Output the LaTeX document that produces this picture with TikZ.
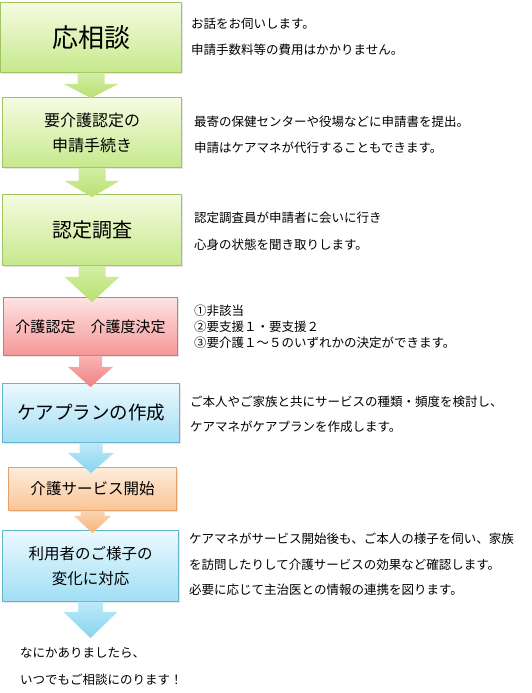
\documentclass[tikz,border=0pt]{standalone}
\usepackage{fontspec}
\setmainfont{Noto Sans CJK JP}
\usetikzlibrary{calc,shadows}

\definecolor{grnline}{RGB}{160,196,100}
\definecolor{grntop}{RGB}{245,251,225}
\definecolor{grnbot}{RGB}{198,233,140}
\definecolor{grnarr}{RGB}{184,224,112}
\definecolor{redline}{RGB}{205,120,118}
\definecolor{redtop}{RGB}{253,228,228}
\definecolor{redbot}{RGB}{246,150,150}
\definecolor{redarr}{RGB}{240,128,128}
\definecolor{blueline}{RGB}{100,180,205}
\definecolor{bluetop}{RGB}{236,249,254}
\definecolor{bluebot}{RGB}{160,222,245}
\definecolor{bluearr}{RGB}{135,212,240}
\definecolor{orgline}{RGB}{232,160,105}
\definecolor{orgtop}{RGB}{254,236,220}
\definecolor{orgbot}{RGB}{250,196,148}
\definecolor{orgarr}{RGB}{248,180,120}

% block arrow: style, from, to, shaft half width, head half width, shaft length, tip overlap
\newcommand{\flowarrow}[7]{%
  \shade[#1] let \p1=(#2), \p2=(#3) in
    (\x1-#4pt,\y1) -- (\x1-#4pt,\y1-#6pt) -- (\x1-#5pt,\y1-#6pt) -- (\x1,\y2-#7pt)
    -- (\x1+#5pt,\y1-#6pt) -- (\x1+#4pt,\y1-#6pt) -- (\x1+#4pt,\y1) -- cycle;}

\begin{document}
\begin{tikzpicture}[
    x=1pt, y=-1pt,
    box/.style={rectangle, inner sep=0pt, line width=0.8pt, align=center,
      drop shadow={shadow xshift=1.2pt, shadow yshift=-1.5pt, opacity=0.2}},
    greenbox/.style={box, draw=grnline, top color=grntop, bottom color=grnbot},
    redbox/.style={box, draw=redline, top color=redtop, bottom color=redbot},
    bluebox/.style={box, draw=blueline, top color=bluetop, bottom color=bluebot},
    orangebox/.style={box, draw=orgline, top color=orgtop, bottom color=orgbot},
    greenarrow/.style={top color=grnbot!70!grntop, bottom color=grnarr},
    redarrow/.style={top color=redbot!60!redtop, bottom color=redarr},
    bluearrow/.style={top color=bluebot!60!bluetop, bottom color=bluearr},
    orangearrow/.style={top color=orgbot!60!orgtop, bottom color=orgarr},
    note/.style={anchor=base west, align=left, inner sep=0pt, font=\fontsize{12.5}{#1}\selectfont},
    note/.default=27
  ]
    \useasboundingbox (0,0) rectangle (532,693);

    % Steps
    \node[greenbox, minimum width=181pt, minimum height=70pt, font=\fontsize{26}{30}\selectfont] (b1) at (91,37.5) {応相談};
    \node[greenbox, minimum width=179pt, minimum height=70pt, font=\fontsize{16}{25}\selectfont] (b2) at (92,132.5) {要介護認定の\\申請手続き};
    \node[greenbox, minimum width=179pt, minimum height=71pt, font=\fontsize{20}{24}\selectfont] (b3) at (92,230) {認定調査};
    \node[redbox, minimum width=174pt, minimum height=58pt, font=\fontsize{15}{18}\selectfont] (b4) at (90.5,326.5) {介護認定　介護度決定};
    \node[bluebox, minimum width=177pt, minimum height=59pt, font=\fontsize{18.5}{22}\selectfont] (b5) at (91,413) {ケアプランの作成};
    \node[orangebox, minimum width=168pt, minimum height=43pt, font=\fontsize{15.5}{18}\selectfont] (b6) at (92.5,489) {介護サービス開始};
    \node[bluebox, minimum width=176pt, minimum height=71pt, font=\fontsize{15.5}{25}\selectfont] (b7) at (90.5,566) {利用者のご様子の\\変化に対応};
    \coordinate (tip) at (91,638);

    % Arrows
    \flowarrow{greenarrow}{b1.south}{b2.north}{13.5}{27.5}{11}{1}
    \flowarrow{greenarrow}{b2.south}{b3.north}{13.5}{27.5}{13}{3}
    \flowarrow{greenarrow}{b3.south}{b4.north}{13.5}{27.5}{11}{5}
    \flowarrow{redarrow}{b4.south}{b5.north}{11.5}{22.5}{11}{4}
    \flowarrow{bluearrow}{b5.south}{b6.north}{11.5}{23}{10}{6}
    \flowarrow{orangearrow}{b6.south}{b7.north}{12}{18.5}{5}{3}
    \flowarrow{bluearrow}{b7.south}{tip}{12.5}{27}{10}{0}

    % Notes (base = last line)
    \node[note=26] (t1) at (191,54.7) {お話をお伺いします。\\申請手数料等の費用はかかりません。};
    \node[note=26] (t2) at (194,152.7) {最寄の保健センターや役場などに申請書を提出。\\申請はケアマネが代行することもできます。};
    \node[note] (t3) at (194,249.7) {認定調査員が申請者に会いに行き\\心身の状態を聞き取りします。};
    \node[note=16] (t4) at (194,347.7) {①非該当\\②要支援１・要支援２\\③要介護１～５のいずれかの決定ができます。};
    \node[note=25] (t5) at (190,431.7) {ご本人やご家族と共にサービスの種類・頻度を検討し、\\ケアマネがケアプランを作成します。};
    \node[note=25.5] (t7) at (189,594.7) {ケアマネがサービス開始後も、ご本人の様子を伺い、家族\\を訪問したりして介護サービスの効果など確認します。\\必要に応じて主治医との情報の連携を図ります。};
    \node[note] (t8) at (20,684.7) {なにかありましたら、\\いつでもご相談にのります！};
\end{tikzpicture}
\end{document}
